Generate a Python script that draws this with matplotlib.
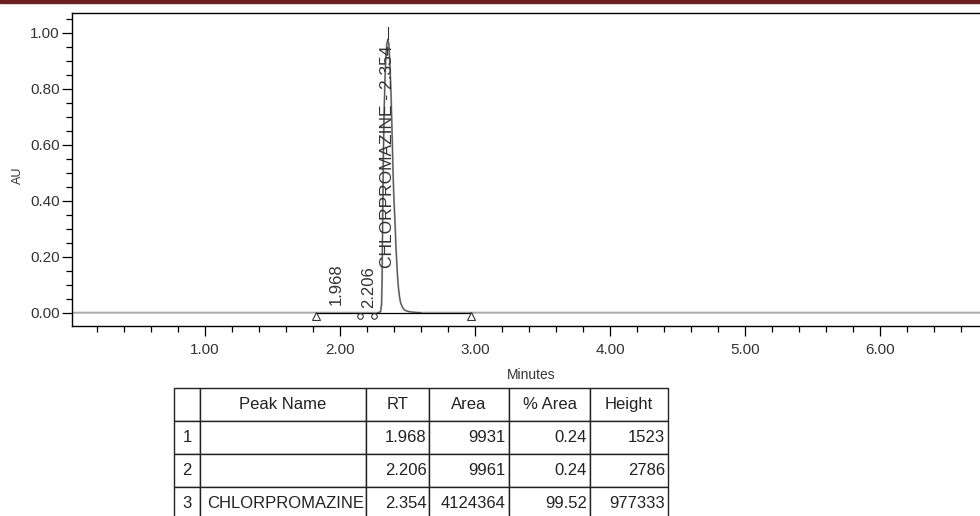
import matplotlib
matplotlib.use("Agg")
import matplotlib.pyplot as plt
from matplotlib.ticker import MultipleLocator, FormatStrFormatter
from matplotlib.patches import Rectangle

plt.rcParams['font.family'] = ['Liberation Sans', 'DejaVu Sans']

# chromatogram trace (minutes, AU)
trace_t = [0.0, 1.80, 2.20, 2.28, 2.300, 2.308, 2.312, 2.316, 2.321, 2.326, 2.333,
           2.340, 2.347, 2.354, 2.362, 2.370, 2.378, 2.386, 2.393, 2.400, 2.407,
           2.415, 2.425, 2.432, 2.440, 2.449, 2.465, 2.480, 2.500, 2.520, 2.560,
           2.600, 7.0]
trace_au = [0.0, 0.0, 0.0, 0.0, 0.003, 0.03, 0.12, 0.33, 0.55, 0.70, 0.83,
            0.92, 0.96, 0.977, 0.96, 0.89, 0.78, 0.64, 0.50, 0.40, 0.33,
            0.23, 0.14, 0.093, 0.06, 0.035, 0.017, 0.009, 0.005, 0.003, 0.001,
            0.0, 0.0]

# integration baseline and peak marks
baseline_t = [1.82, 2.97]
split_t = [2.148, 2.25]
peak_rt = [1.968, 2.206, 2.354]
peak_labels = ["1.968", "2.206", "CHLORPROMAZINE - 2.354"]
peak_label_y = [0.027, 0.017, 0.16]

# results table
col_labels = ["", "Peak Name", "RT", "Area", "% Area", "Height"]
row_ids = ["1", "2", "3"]
peak_names = ["", "", "CHLORPROMAZINE"]
rt_vals = ["1.968", "2.206", "2.354"]
area_vals = ["9931", "9961", "4124364"]
pct_area = ["0.24", "0.24", "99.52"]
height_vals = ["1523", "2786", "977333"]

fig = plt.figure(figsize=(9.8, 5.16), dpi=100)

# dark header band
fig.patches.append(Rectangle((0, 1 - 3 / 516), 1, 3 / 516, transform=fig.transFigure,
                             color="#6b2024", zorder=0))

ax = fig.add_axes([72.3 / 980, 190 / 516, (990 - 72.3) / 980, (326 - 13.3) / 516])
ax.set_xlim(0.017, 6.815)
ax.set_ylim(-0.0476, 1.0704)

ax.plot(trace_t, trace_au, color="#aaaaaa", lw=1.4, zorder=2)
# peak drawn darker on top
pk = [(t, a) for t, a in zip(trace_t, trace_au) if 2.28 <= t <= 2.6]
ax.plot([p[0] for p in pk], [p[1] for p in pk], color="#555555", lw=0.8, zorder=3)
ax.plot(baseline_t, [0, 0], color="black", lw=0.9, zorder=3)
ax.plot([peak_rt[2], peak_rt[2]], [0.977, 1.02], color="#333333", lw=0.8, zorder=3)

ax.plot(baseline_t, [-0.011, -0.011], ls="none", marker="^", ms=6, mfc="white",
        mec="#333333", mew=0.8, zorder=4)
ax.plot(split_t, [-0.011, -0.011], ls="none", marker="o", ms=4, mfc="white",
        mec="#333333", mew=0.8, zorder=4)

for rt, lab, y in zip(peak_rt, peak_labels, peak_label_y):
    ax.text(rt + 0.005 if rt < 2.3 else rt, y, lab, rotation=90, ha="center", va="bottom",
            fontsize=12 if rt < 2.3 else 12.5, color="#333333", zorder=5)

ax.xaxis.set_major_locator(MultipleLocator(1.0))
ax.xaxis.set_minor_locator(MultipleLocator(0.2))
ax.yaxis.set_major_locator(MultipleLocator(0.2))
ax.yaxis.set_minor_locator(MultipleLocator(0.05))
ax.xaxis.set_major_formatter(FormatStrFormatter("%.2f"))
ax.yaxis.set_major_formatter(FormatStrFormatter("%.2f"))
ax.tick_params(which="major", direction="out", length=7, width=0.9, labelsize=11,
               labelcolor="#333333", pad=2)
ax.tick_params(which="minor", direction="out", length=4, width=0.9)
ax.tick_params(axis="x", which="major", pad=5)
for s in ax.spines.values():
    s.set_linewidth(1.0)

ax.set_xlabel("Minutes", fontsize=10, color="#333333", labelpad=8)
ax.set_ylabel("AU", fontsize=9, color="#333333")
ax.yaxis.set_label_coords(-48 / 918, 0.483)

# table
tax = fig.add_axes([174 / 980, -4 / 516, 494 / 980, 132 / 516])
tax.axis("off")
cells = [[r, n, a, b, c, d] for r, n, a, b, c, d in
         zip(row_ids, peak_names, rt_vals, area_vals, pct_area, height_vals)]
widths = [26, 166, 63, 80, 81, 78]
tbl = tax.table(cellText=cells, colLabels=col_labels, bbox=[0, 0, 1, 1],
                colWidths=[w / 494 for w in widths])
tbl.auto_set_font_size(False)
tbl.set_fontsize(12)
for (r, c), cell in tbl.get_celld().items():
    cell.set_linewidth(1.0)
    cell.set_edgecolor("#222222")
    txt = cell.get_text()
    txt.set_color("#222222")
    cell.PAD = 0.04
    if r == 0 or c == 0:
        txt.set_horizontalalignment("center")
    elif c == 1:
        txt.set_horizontalalignment("left")
    else:
        txt.set_horizontalalignment("right")

fig.savefig("out.png", dpi=100)
